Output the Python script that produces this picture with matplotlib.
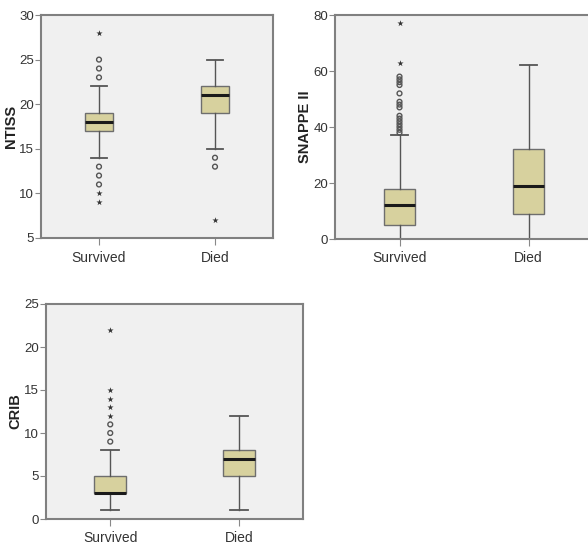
import matplotlib
matplotlib.use("Agg")
import matplotlib.pyplot as plt

plt.rcParams["font.family"] = ["Liberation Sans", "DejaVu Sans"]

groups = ["Survived", "Died"]

# NTISS: (whislo, q1, med, q3, whishi), mild outliers (circles), extreme (stars)
ntiss_stats = [(14, 17, 18, 19, 22), (15, 19, 21, 22, 25)]
ntiss_circles = [[23, 24, 25, 13, 12, 11], [14, 13]]
ntiss_stars = [[28, 10, 9], [7]]

snappe_stats = [(0, 5, 12, 18, 37), (0, 9, 19, 32, 62)]
snappe_circles = [[38, 39, 40, 41, 42, 43, 44, 47, 48, 49, 52, 55, 56, 57, 58], []]
snappe_stars = [[63, 77], []]

crib_stats = [(1, 3, 3, 5, 8), (1, 5, 7, 8, 12)]
crib_circles = [[9, 10, 11], []]
crib_stars = [[12, 13, 14, 15, 22], []]

W, H = 588, 547
fig = plt.figure(figsize=(W / 100, H / 100), dpi=100)

BOX = "#d7d19e"
BG = "#f0f0f0"
EDGE = "#808080"


def rect(l, t, r, b):
    return [l / W, 1 - b / H, (r - l) / W, (b - t) / H]


def panel(pos, stats, circles, stars, ylim, yticks, ylabel, width):
    ax = fig.add_axes(pos)
    ax.set_facecolor(BG)
    bstats = []
    for s, lab in zip(stats, groups):
        lo, q1, med, q3, hi = s
        bstats.append(dict(whislo=lo, q1=q1, med=med, q3=q3, whishi=hi,
                           fliers=[], label=lab))
    ax.bxp(bstats, positions=[1, 2], widths=width, patch_artist=True,
           showfliers=False,
           boxprops=dict(facecolor=BOX, edgecolor="#6e6e6e", linewidth=1.0),
           medianprops=dict(color="#1a1a1a", linewidth=2.2),
           whiskerprops=dict(color="#555555", linewidth=1.0),
           capprops=dict(color="#555555", linewidth=1.3),
           capwidths=width * 0.55)
    for i, (c, st) in enumerate(zip(circles, stars)):
        if c:
            ax.scatter([i + 1] * len(c), c, s=12, facecolors="none",
                       edgecolors="#555555", linewidths=1.0, zorder=3)
        if st:
            ax.scatter([i + 1] * len(st), st, s=22, marker="*",
                       color="#333333", linewidths=0, zorder=3)
    ax.set_xlim(0.5, 2.5)
    ax.set_ylim(*ylim)
    ax.set_yticks(yticks)
    ax.set_ylabel(ylabel, fontsize=10.5, fontweight="bold", color="#222222",
                  labelpad=1)
    ax.tick_params(axis="y", labelsize=9.5, colors="#333333", length=4,
                   width=0.8, color="#888888", pad=1)
    ax.tick_params(axis="x", labelsize=10, colors="#333333", length=5,
                   width=0.8, color="#888888", pad=4)
    for sp in ax.spines.values():
        sp.set_color(EDGE)
        sp.set_linewidth(1.5)
    return ax


panel(rect(41, 15, 273, 238), ntiss_stats, ntiss_circles, ntiss_stars,
      (5, 30), [5, 10, 15, 20, 25, 30], "NTISS", 0.24)
panel(rect(335, 15, 593, 239), snappe_stats, snappe_circles, snappe_stars,
      (0, 80), [0, 20, 40, 60, 80], "SNAPPE II", 0.24)
panel(rect(46, 304, 303, 519), crib_stats, crib_circles, crib_stars,
      (0, 25), [0, 5, 10, 15, 20, 25], "CRIB", 0.25)

fig.savefig("out.png", dpi=100)
